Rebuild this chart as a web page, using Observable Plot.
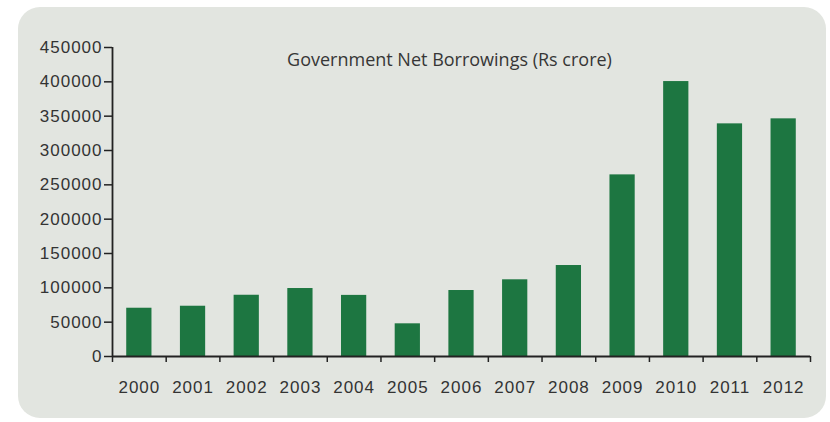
<!DOCTYPE html>
<html><head><meta charset="utf-8">
<script src="https://cdn.jsdelivr.net/npm/d3@7"></script>
<script src="https://cdn.jsdelivr.net/npm/@observablehq/plot@0.6"></script>
<style>
html,body{margin:0;padding:0;background:#fff;}
#wrap{position:relative;width:830px;height:422px;}
#panel{position:absolute;left:18px;top:7px;width:808px;height:411px;border-radius:22px;background:#e2e5e0;}
#chart{position:absolute;left:0;top:0;}
#chart svg text{letter-spacing:1px;}
#chart svg g[aria-label="text"] text{letter-spacing:0;}
</style></head><body>
<div id="wrap"><div id="panel"></div><div id="chart"></div></div>
<script>
const years = [2000, 2001, 2002, 2003, 2004, 2005, 2006, 2007, 2008, 2009, 2010, 2011, 2012];
const borrowings = [70300, 73200, 89200, 99000, 89000, 47600, 96100, 111700, 132500, 264500, 400400, 338800, 346100];
const yTicks = [0, 50000, 100000, 150000, 200000, 250000, 300000, 350000, 400000, 450000];
const title = "Government Net Borrowings (Rs crore)";

const data = years.map((year, i) => ({year, value: borrowings[i]}));
const xDomain = [years[0] - 0.5, years[years.length - 1] + 0.5];
const boundaries = years.map(y => y - 0.5).concat([xDomain[1]]);
const half = 0.235;
const ink = "#222";

const plot = Plot.plot({
  width: 830, height: 422,
  marginLeft: 112, marginRight: 20, marginTop: 47, marginBottom: 66,
  style: {background: "transparent", fontFamily: "'Liberation Sans', Arial, sans-serif", fontSize: "17px", color: "#333"},
  x: {type: "linear", domain: xDomain},
  y: {domain: [0, yTicks[yTicks.length - 1]]},
  marks: [
    Plot.rectY(data, {x1: d => d.year - half, x2: d => d.year + half, y: "value", fill: "#1d7641"}),
    Plot.ruleY([0], {stroke: ink, strokeWidth: 1.8}),
    Plot.ruleX([xDomain[0]], {y1: 0, y2: yTicks[yTicks.length - 1], stroke: ink, strokeWidth: 1.8}),
    Plot.axisY({ticks: yTicks, tickSize: 8, tickPadding: 2, tickFormat: d => String(d), label: null, stroke: ink, strokeWidth: 1.5, fill: "#333"}),
    Plot.axisX({ticks: years, tickSize: 0, tickPadding: 24, tickFormat: d => String(d), label: null, fill: "#333"}),
    Plot.axisX({ticks: boundaries, tickSize: 6, tickFormat: () => "", label: null, stroke: ink, strokeWidth: 1.5}),
    Plot.text([title], {frameAnchor: "top", lineAnchor: "middle", dy: 13, dx: -12, fontFamily: "'Open Sans', sans-serif", fontSize: 18, fill: "#363636"})
  ]
});
document.getElementById("chart").appendChild(plot);
</script>
</body></html>
